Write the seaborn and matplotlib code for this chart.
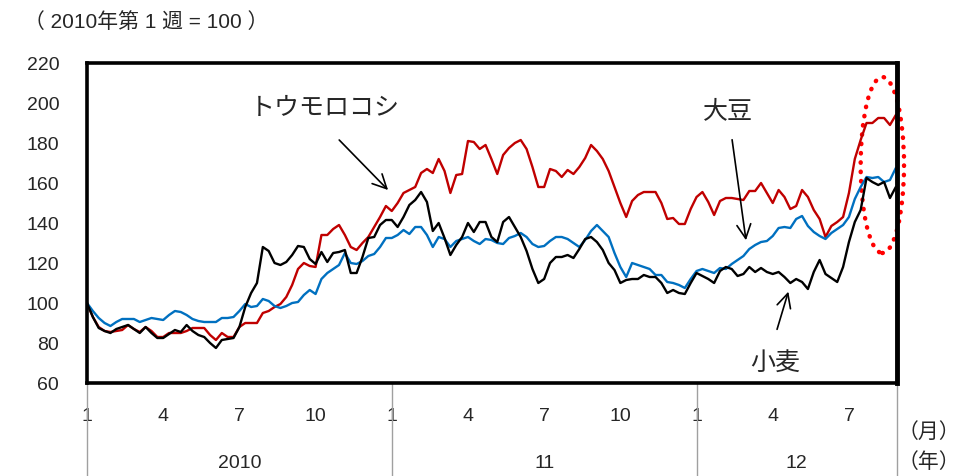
import matplotlib.pyplot as plt
import matplotlib.transforms as mtransforms
from matplotlib.patches import Ellipse
import seaborn as sns
import pandas as pd
import numpy as np

# weekly index, 2010 week 1 = 100
corn = [
    100, 93, 88, 86, 85.5, 86, 86.5, 89, 87, 85.5,
    88, 86, 83, 83, 85, 85, 85, 86, 87.5, 87.5,
    87.5, 84, 81.5, 85, 83, 83, 88, 90, 90, 90,
    95, 96, 98, 99.5, 103, 109, 117, 120, 118.5, 118,
    134, 134, 137, 139, 134, 128, 126.5, 130, 133, 138,
    143, 148.5, 146, 150, 155, 156.5, 158, 165, 167, 165,
    172, 166, 155, 164, 164.5, 181, 180.5, 177, 179, 172,
    164.5, 174, 177.5, 180, 181.5, 177, 168, 158, 158, 167,
    166, 163, 166.5, 164.5, 168, 172.5, 179, 176, 172, 166,
    158, 150, 143, 151, 154, 155.5, 155.5, 155.5, 150, 142,
    142.5, 139.5, 139.5, 147, 153, 155.5, 150.5, 144, 151, 152.5,
    152.5, 152, 151.5, 156, 156, 160, 155, 150, 156.5, 153,
    147, 148.5, 156.5, 153, 146.5, 142, 133, 138.5, 140.5, 143,
    155, 172, 181.5, 190, 190, 192.5, 192.5, 189, 194,
]
soybean = [
    100, 96, 92.5, 90, 88.5, 90.5, 92, 92, 92, 90.5,
    91.5, 92.5, 92, 91.5, 94, 96, 95.5, 94, 92, 91,
    90.5, 90.5, 90.5, 92.5, 92.5, 93, 96, 99.5, 98, 98.5,
    102, 101, 98.5, 97.5, 98.5, 100, 100.5, 104, 106.5, 104.5,
    112, 115, 117, 119, 125, 120, 119.5, 121, 123.5, 124.5,
    128, 132.5, 132.5, 134, 136.5, 134.5, 138, 138, 134, 128,
    133, 132, 128, 131, 132, 133, 131, 129.5, 132, 131.5,
    130, 129.5, 132.5, 133.5, 135, 133, 129.5, 128, 128.5, 131,
    133, 133, 132, 130, 128, 131.5, 136, 139, 136, 133,
    125, 118, 113, 120, 119, 118, 117, 114, 114, 110.5,
    110, 109, 107.5, 112, 116, 117, 116, 115, 117.5, 117,
    119.5, 121.5, 123.5, 127, 129, 130.5, 131, 133.5, 137.5, 138,
    137.5, 142, 143.5, 138.5, 135.5, 133.5, 132, 135, 137, 139,
    143, 152, 158, 163, 162.5, 163, 160.5, 161.5, 167.5,
]
wheat = [
    100, 93, 87.5, 86, 85, 87, 88, 89, 87, 85,
    88, 85, 82.5, 82.5, 84.5, 86.5, 85.5, 89, 86, 84,
    83, 80, 77.5, 81.5, 82, 82.5, 88, 98, 105, 110,
    128, 126, 120, 119, 120.5, 124, 128.5, 128, 122, 119.5,
    125.5, 120.5, 125, 125.5, 126.5, 115, 115, 123, 132.5, 133,
    139, 141.5, 141.5, 138, 143, 149, 151.5, 155.5, 150.5, 136,
    140, 132.5, 124, 129, 133, 140, 135.5, 140.5, 140.5, 133,
    130.5, 140.5, 143, 138, 133, 126, 117, 110, 112, 120,
    123, 123, 124, 122.5, 127, 132, 133, 130.5, 126.5, 120,
    116.5, 110, 111.5, 112, 112, 114, 113, 113, 110, 105,
    106.5, 105, 104.5, 110, 115, 113.5, 112, 110, 116, 118,
    117, 113.5, 114.5, 118, 115.5, 117.5, 115.5, 114.5, 115.5, 113,
    110, 112, 110.5, 107, 115.5, 121.5, 114.5, 112.5, 110.5, 118,
    130.5, 140.5, 146.5, 162.5, 160.5, 159, 160.5, 152.5, 158,
]
weeks = list(range(len(corn)))

month_pos = [0, 13, 26, 39, 52, 65, 78, 91, 104, 117, 130]
month_labels = ['1', '4', '7', '10', '1', '4', '7', '10', '1', '4', '7']
year_edges = [0, 52, 104, 138.2]
year_labels = ['2010', '11', '12']

df = pd.DataFrame({
    'week': weeks * 3,
    'value': corn + soybean + wheat,
    'crop': ['corn'] * len(corn) + ['soy'] * len(soybean) + ['wheat'] * len(wheat),
})

sns.set_style('white')
plt.rcParams['font.family'] = ['Liberation Sans', 'Noto Sans CJK JP', 'DejaVu Sans']
jp = ['Noto Sans CJK JP', 'DejaVu Sans']

fig = plt.figure(figsize=(9.68, 4.76), dpi=100)
ax = fig.add_axes([87 / 968, 93 / 476, 810 / 968, 320 / 476])

sns.lineplot(data=df, x='week', y='value', hue='crop',
             palette={'corn': '#C00000', 'soy': '#0070C0', 'wheat': '#000000'},
             linewidth=1.7, legend=False, ax=ax)

ax.set_xlim(0, 138.2)
ax.set_ylim(60, 220)
ax.set_yticks(range(60, 221, 20))
ax.tick_params(axis='y', length=4, color='#808080', width=1, pad=16, labelsize=14)
ax.set_xticks(month_pos, month_labels)
ax.tick_params(axis='x', length=0, pad=18, labelsize=14)
ax.set_xlabel('')
ax.set_ylabel('')
for s in ax.spines.values():
    s.set_color('black')
    s.set_linewidth(2.6)
ax.spines['right'].set_linewidth(3.5)

# year separators and labels below the axis
trans = mtransforms.blended_transform_factory(ax.transData, ax.transAxes)
for x in year_edges:
    ax.plot([x, x], [0, -0.3], color='#A0A0A0', lw=1, transform=trans, clip_on=False)
for i, lab in enumerate(year_labels):
    xc = (year_edges[i] + year_edges[i + 1]) / 2
    ax.text(xc, -0.25, lab, transform=trans, ha='center', va='center', fontsize=14)

fig.text(898 / 968, 1 - 432 / 476, '（月）', fontsize=15, va='center', family=jp)
fig.text(898 / 968, 1 - 462 / 476, '（年）', fontsize=15, va='center', family=jp)
fig.text(24 / 968, 1 - 22 / 476, '（ 2010年第 1 週 = 100 ）', fontsize=15, va='center')

# annotations
arrow = dict(arrowstyle='->,head_length=1.0,head_width=0.5', color='black', lw=1.2)
ax.text(40.6, 197.5, 'トウモロコシ', ha='center', va='center', fontsize=18, family=jp)
ax.annotate('', xy=(51.7, 155.5), xytext=(42.7, 182.5), arrowprops=arrow)
ax.text(109.4, 196, '大豆', ha='center', va='center', fontsize=18, family=jp)
ax.annotate('', xy=(112.5, 130), xytext=(110, 183), arrowprops=arrow)
ax.text(117.4, 69.5, '小麦', ha='center', va='center', fontsize=18, family=jp)
ax.annotate('', xy=(119.8, 107), xytext=(117.6, 85.5), arrowprops=arrow)

ell = Ellipse((135.7, 169), width=7.4, height=88, fill=False, edgecolor='#FF0000',
              lw=3.2, linestyle=(0, (0.1, 2.0)), clip_on=False)
ell.set_capstyle('round')
ax.add_patch(ell)

fig.savefig('out.png', dpi=100)
